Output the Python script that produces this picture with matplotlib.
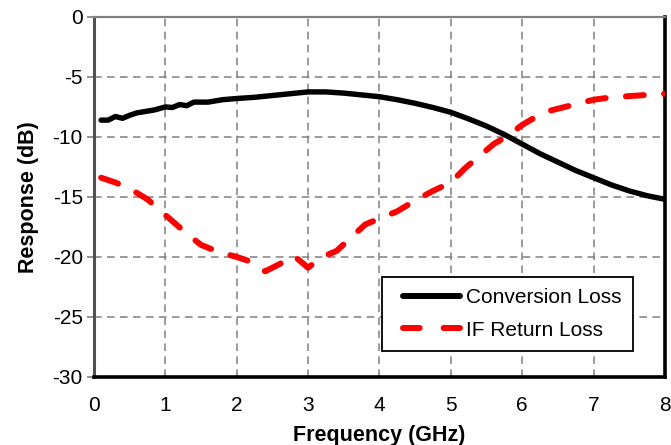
import matplotlib
matplotlib.use("Agg")
import matplotlib.pyplot as plt
from matplotlib.lines import Line2D
from matplotlib.legend_handler import HandlerLine2D

plt.rcParams['font.family'] = ['Liberation Sans', 'DejaVu Sans']
plt.rcParams['axes.unicode_minus'] = False

# Conversion loss (dB) vs frequency (GHz)
conv_freq = [0.1, 0.2, 0.3, 0.4, 0.5, 0.6, 0.7, 0.85, 1.0, 1.1, 1.2, 1.3, 1.4, 1.6,
             1.8, 2.0, 2.25, 2.5, 2.75, 3.0, 3.25, 3.5, 3.75, 4.0, 4.25, 4.5, 4.75,
             5.0, 5.25, 5.5, 5.75, 6.0, 6.25, 6.5, 6.75, 7.0, 7.25, 7.5, 7.75, 8.0]
conv_loss = [-8.6, -8.6, -8.3, -8.45, -8.2, -8.0, -7.9, -7.75, -7.5, -7.55, -7.3, -7.4,
             -7.1, -7.1, -6.9, -6.8, -6.7, -6.55, -6.4, -6.25, -6.25, -6.35, -6.5,
             -6.65, -6.9, -7.2, -7.55, -7.95, -8.5, -9.1, -9.8, -10.6, -11.4, -12.1,
             -12.8, -13.4, -14.0, -14.5, -14.9, -15.2]

# IF return loss (dB)
rl_freq = [0.1, 0.3, 0.5, 0.75, 1.0, 1.25, 1.5, 1.75, 2.0, 2.2, 2.4, 2.6, 2.8, 3.0,
           3.2, 3.4, 3.6, 3.8, 4.0, 4.25, 4.5, 4.75, 5.0, 5.2, 5.4, 5.6, 5.8, 6.0,
           6.2, 6.4, 6.6, 6.8, 7.0, 7.25, 7.5, 7.75, 8.0]
rl_loss = [-13.4, -13.8, -14.3, -15.2, -16.5, -17.8, -19.0, -19.6, -20.0, -20.4,
           -21.2, -20.6, -19.9, -20.9, -20.0, -19.5, -18.4, -17.3, -16.8, -16.2,
           -15.3, -14.5, -13.8, -12.6, -11.6, -10.6, -9.9, -9.0, -8.3, -7.8, -7.5,
           -7.2, -6.9, -6.7, -6.6, -6.5, -6.4]

RED_DASH = (0, (3.0, 3.4))

fig = plt.figure(figsize=(6.71, 4.45), dpi=100)
ax = fig.add_axes([0.140, 0.153, 0.851, 0.809])

ax.plot(conv_freq, conv_loss, color='black', lw=3.9, solid_capstyle='round',
        solid_joinstyle='round', zorder=3)
ax.plot(rl_freq, rl_loss, color='#ff0000', lw=4.3, linestyle=RED_DASH,
        dash_capstyle='round', dash_joinstyle='round', zorder=3)

ax.set_xlim(0, 8)
ax.set_ylim(-30, 0)
ax.set_xticks(range(0, 9))
ax.set_yticks(range(-30, 1, 5))
ax.grid(True, color='#808080', linestyle=(0, (5, 3.5)), lw=1.1)
ax.set_axisbelow(True)

ax.tick_params(axis='x', length=0, pad=14, labelsize=15)
ax.tick_params(axis='y', length=5, width=1.2, color='#808080', pad=3, labelsize=15)

ax.spines['left'].set_color('#505050')
ax.spines['left'].set_linewidth(2.2)
ax.spines['top'].set_color('#808080')
ax.spines['top'].set_linewidth(1.6)
ax.spines['right'].set_color('black')
ax.spines['right'].set_linewidth(2.6)
ax.spines['bottom'].set_color('black')
ax.spines['bottom'].set_linewidth(2.6)

ax.set_xlabel('Frequency (GHz)', fontsize=15.5, fontweight='bold', labelpad=7)
ax.set_ylabel('Response (dB)', fontsize=15.5, fontweight='bold', labelpad=10)

legend_handles = [
    Line2D([], [], color='black', lw=4.3, solid_capstyle='round'),
    Line2D([], [], color='#ff0000', lw=4.3, linestyle=(0, (2.8, 4.0)),
           dash_capstyle='round'),
]
leg = ax.legend(legend_handles, ['Conversion Loss', 'IF Return Loss'], loc='lower left',
                bbox_to_anchor=(0.504, 0.072), borderaxespad=0, fontsize=15,
                fancybox=False, framealpha=1, edgecolor='black', handlelength=3.2,
                handletextpad=0.3, labelspacing=0.65, borderpad=0.55,
                handler_map={Line2D: HandlerLine2D(xpad=0.45)})
leg.get_frame().set_linewidth(1.3)

fig.savefig('out.png', dpi=100)
